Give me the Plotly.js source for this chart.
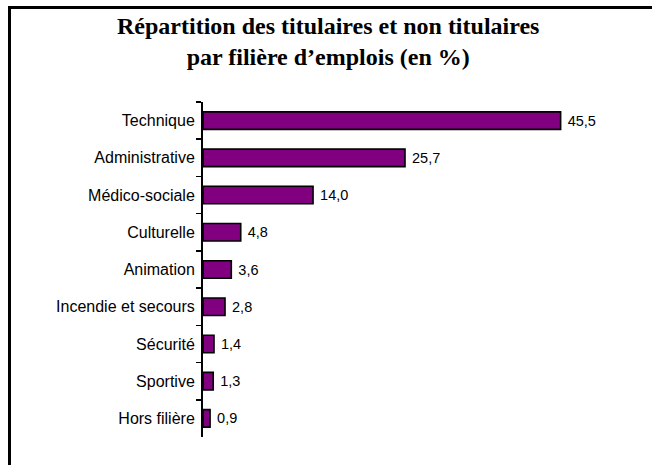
<!DOCTYPE html>
<html>
<head>
<meta charset="utf-8">
<script src="https://cdn.plot.ly/plotly-3.0.1.min.js"></script>
<style>
  html, body { margin:0; padding:0; background:#fff; }
  #wrap { position:relative; width:652px; height:465px; }
  #chart { width:652px; height:465px; }
  #frame { position:absolute; left:8px; top:6px; right:0; bottom:0;
           border-top:3px solid #000; border-left:3px solid #000; pointer-events:none; }
</style>
</head>
<body>
<div id="wrap">
  <div id="chart"></div>
  <div id="frame"></div>
</div>
<script>
const filieres = ['Technique','Administrative','Médico-sociale','Culturelle','Animation','Incendie et secours','Sécurité','Sportive','Hors filière'];
const parts = [45.5, 25.7, 14.0, 4.8, 3.6, 2.8, 1.4, 1.3, 0.9];

// valeurs à la française : virgule décimale
const fmt = v => '\u00a0' + v.toFixed(1).replace('.', ',');

const plotTop = 102, plotH = 335;

Plotly.newPlot('chart', [{
  type:'bar',
  orientation:'h',
  y: filieres,
  x: parts,
  text: parts.map(fmt),
  textposition:'outside',
  cliponaxis:false,
  textfont:{family:'Liberation Sans, Arial, sans-serif', size:14.5, color:'#000'},
  width:0.47,
  marker:{color:'#800080', line:{color:'#000', width:1.6}},
  hoverinfo:'none'
}], {
  width:652, height:465,
  paper_bgcolor:'#fff', plot_bgcolor:'#fff',
  margin:{l:203, r:56, t:plotTop, b:28},
  showlegend:false,
  annotations:[{
    text:'<b>Répartition des titulaires et non titulaires<br>par filière d’emplois (en %)</b>',
    xref:'paper', yref:'paper', x:(328-203)/393, y:1 + (plotTop - 11)/plotH,
    xanchor:'center', yanchor:'top', showarrow:false,
    font:{family:'Liberation Serif, Times New Roman, serif', size:24, color:'#000'}
  }],
  xaxis:{range:[0, 50], visible:false, fixedrange:true},
  yaxis:{
    autorange:'reversed',
    showline:true, linecolor:'#000', linewidth:2,
    ticks:'outside', tickson:'boundaries', ticklen:5, tickwidth:1.5, tickcolor:'#000',
    ticklabelstandoff:3,
    tickfont:{family:'Liberation Sans, Arial, sans-serif', size:16, color:'#000'},
    showgrid:false, zeroline:false, fixedrange:true
  }
}, {displayModeBar:false, staticPlot:true});
</script>
</body>
</html>
